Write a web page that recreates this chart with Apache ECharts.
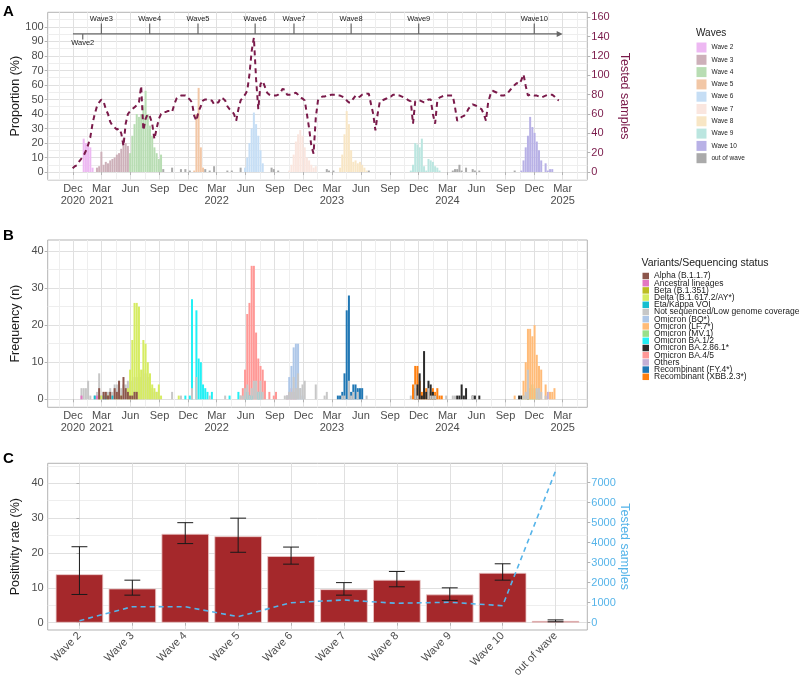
<!DOCTYPE html>
<html><head><meta charset="utf-8">
<script src="https://cdn.jsdelivr.net/npm/echarts@6/dist/echarts.min.js"></script>
<style>html,body{margin:0;padding:0;background:#fff}#c{width:800px;height:689px}</style>
</head><body><div id="c"></div>
<script>
// ================= DATA =================
// Weekly bins: week 0 is the week centred on this date
const weekBase = '2021-01-04';

// Time axis ticks (panels A and B)
const xTickDates = ['2020-12-01','2021-03-01','2021-06-01','2021-09-01','2021-12-01','2022-03-01','2022-06-01','2022-09-01','2022-12-01','2023-03-01','2023-06-01','2023-09-01','2023-12-01','2024-03-01','2024-06-01','2024-09-01','2024-12-01','2025-03-01'];
const xTickLabels = ['Dec\n2020','Mar\n2021','Jun','Sep','Dec','Mar\n2022','Jun','Sep','Dec','Mar\n2023','Jun','Sep','Dec','Mar\n2024','Jun','Sep','Dec','Mar\n2025'];

// ---- Panel A : weekly positivity proportion (%) by wave; segments = [first week, values...]
const waveNames = ['Wave 2','Wave 3','Wave 4','Wave 5','Wave 6','Wave 7','Wave 8','Wave 9','Wave 10','out of wave'];
const waveColors = ['#EDB8F2','#CDB0B9','#B8DDB3','#F2C7A6','#C6DEF5','#FAE6DF','#F8E6C5','#BBE6E0','#B8B1E6','#AAAAAA'];
const wave2Pct = [[0, [23, 20, 19, 17, 3]]];
const wave3Pct = [[6, [3, 4, 14, 5, 7, 6, 8, 9, 10, 12, 13, 16, 23, 20, 18]]];
const wave4Pct = [[21, [13, 25, 33, 40, 38, 40, 46, 56, 40, 32, 25, 17, 13, 9, 12]]];
const wave5Pct = [[50, [1, 40, 58, 17, 3]]];
const wave6Pct = [[73, [3, 10, 20, 30, 41, 33, 25, 15, 6]]];
const wave7Pct = [[93, [1, 5, 12, 21, 26, 29, 25, 17, 10, 8, 5, 3, 4]]];
const wave8Pct = [[116, [3, 12, 26, 42, 33, 15, 7, 8, 6, 7, 5, 3, 1]]];
const wave9Pct = [[148, [1, 5, 20, 19, 17, 23, 4, 1, 9, 8, 7, 4, 3, 1]]];
const wave10Pct = [[198, [1, 8, 17, 25, 38, 31, 27, 21, 15, 8, 0, 6, 1, 2, 2]]];
const outWavePct = [[36,[2]],[40,[3]],[44,[2]],[46,[2]],[48,[1]],[55,[2]],[57,[1]],[59,[4]],[65,[1]],[67,[1]],[71,[3]],[85,[3,2]],[88,[1]],[110,[2,1]],[113,[1]],[129,[1]],[167,[1,2,2,5,1,0,3,0,0,2,1,0,1]],[195,[1]]];

// Tested samples per week (right axis of A), starting at week -5
const testedFromWeek = -5;
const testedSamples = [4,6,7,11,14,
 17,22,28,36,50,60,68,72,75,73,
 65,60,52,48,46,44,45,40,27,50,
 60,63,65,67,69,72,89,43,55,60,
 57,50,34,45,55,60,62,62,63,63,
 62,70,76,78,79,79,79,77,75,72,
 58,53,63,68,74,75,75,74,74,70,
 72,72,77,76,74,68,65,63,60,53,
 65,74,77,80,84,101,125,139,96,65,
 91,94,88,82,80,79,79,79,80,82,
 86,85,80,80,80,81,82,80,77,76,
 74,60,45,27,19,56,74,77,78,78,
 79,79,80,80,80,79,79,78,77,74,
 72,72,76,79,77,78,80,80,81,81,
 70,60,43,60,73,74,75,76,78,78,
 80,80,79,79,78,77,76,74,73,50,
 73,74,74,73,72,73,75,75,60,50,
 74,77,78,79,79,79,79,79,67,53,
 55,57,58,60,65,68,70,69,68,66,
 65,60,53,72,80,84,83,82,80,79,
 79,80,82,85,87,90,92,91,95,101,
 89,79,80,80,79,79,78,77,78,79,
 80,80,80,78,75,74];

// Wave start markers on the timeline
const waveMarkDates = ['2021-01-01','2021-03-01','2021-08-01','2022-01-01','2022-07-01','2022-11-01','2023-05-01','2023-12-01','2024-12-01'];
const waveMarkLabels = ['Wave2','Wave3','Wave4','Wave5','Wave6','Wave7','Wave8','Wave9','Wave10'];
const timelineSpan = ['2020-12-01','2025-03-01'];

// ---- Panel B : weekly frequency by variant (legend order)
const variantNames = ['Alpha (B.1.1.7)','Ancestral lineages','Beta (B.1.351)','Delta (B.1.617.2/AY*)','Eta/Kappa VOI','Not sequenced/Low genome coverage','Omicron (BQ*)','Omicron (LF.7*)','Omicron (MV.1)','Omicron BA.1/2','Omicron BA.2.86.1*','Omicron BA.4/5','Others','Recombinant (FY.4*)','Recombinant (XBB.2.3*)'];
const variantColors = ['#8C564B','#E377C2','#BCBD22','#D6EC62','#17BECF','#C7C7C7','#AEC7E8','#FFBB78','#98DF8A','#22F0F5','#2B2B2B','#FF9896','#C5B0D5','#1F77B4','#FF7F0E'];
const alphaN = [[7,[3,0,2,2,1,2,0,3,2,5,1,6,3,2,1,1,2,2]]];
const ancestralN = [[-1,[1]],[6,[1]]];
const betaN = [[7,[1]],[11,[1]]];
const deltaN = [[8,[1]],[15,[1,0,1,0,0,3,8,16,26,26,25,8,16,15,10,7,4,3,2,4,1]],[43,[1]]];
const etaN = [[5,[1,0,0,0,1,1,0,0,1]]];
const notSeqN = [[-1,[3,3,3,5,1]],[5,[1,2,7,1,2,2,2,3,2,4,4,5,3,4,4,5,5,5,6,6,7,6,8,7,6,4,3,2,2,1]],[40,[2]],[44,[1]],[49,[3,0,6]],[57,[1]],[64,[1]],[71,[1,1,3,4,1,3,5,5,2,5,2]],[91,[1,1,2,2,6,3,7,3,4,5]],[105,[4]],[109,[1,2]],[117,[1,1,0,5,1,2,0,2]],[128,[1]],[148,[1]],[150,[4,1,0,0,0,0,3,1,1,1]],[164,[1]],[167,[1,1]],[176,[1]],[199,[1,2,8,0,0,0,3,3,2,0,1]]];
const bqN = [[92,[1,6,9,14,15,15,3,1]]];
const lf7N = [[195,[1]],[199,[5,10,19,19,17,20,12,9,8,0,4,0,2,2,3]]];
const mv1N = [[199,[1,1,2,3,4,3,2,1]]];
const ba12N = [[46,[1,0,1,27,0,24,11,10,4,3,2,0,2]],[66,[1]],[70,[2,0,0,2,2,1,1,0,0,2,2]]];
const ba286N = [[150,[3,4,7,1,13,2,5,4,2,1]],[169,[1,1,4,1,3,0,0,1,1,0,1]],[197,[1,1,0,0,1]]];
const ba45N = [[71,[1,3,8,23,26,36,36,18,11,9,8,5,0,2,0,1,2]],[92,[1,2,3,2,1]]];
const othersN = [[206,[1,0,0,0,2]]];
const fy4N = [[115,[1,1,2,7,24,28,2,4,4,3,3,3]]];
const xbbN = [[149,[4,9,9,5,2,3,3,2,2,3,2,3,1,1]]];

// ---- Panel C : positivity rate by wave
const waveCats = ['Wave 2','Wave 3','Wave 4','Wave 5','Wave 6','Wave 7','Wave 8','Wave 9','Wave 10','out of wave'];
const positivity = [13.9, 9.8, 25.5, 24.8, 19.1, 9.6, 12.3, 8.1, 14.3, 0.5];
const posLow  = [8.1, 7.9, 22.7, 20.2, 16.8, 7.9, 10.3, 6.4, 12.2, 0.25];
const posHigh = [21.8, 12.2, 28.7, 30.0, 21.7, 11.5, 14.7, 10.0, 16.9, 0.8];
const testedPerWave = [100, 800, 800, 300, 1000, 1135, 970, 1020, 850, 7585];

// ================= HELPERS =================
const DAY = 86400000;
const dX = s => Date.parse(s + 'T00:00:00Z') / DAY;
const base = dX(weekBase);
const wkX = k => base + 7 * k;
const K0 = -5, K1 = 215;
function weekly(segs) {
  const m = new Map();
  segs.forEach(([s, vals]) => vals.forEach((v, i) => { if (v) m.set(s + i, v); }));
  const out = [];
  for (let k = K0; k <= K1; k++) out.push([wkX(k), m.has(k) ? m.get(k) : null]);
  return out;
}
const FONT = '"Liberation Sans", Arial, Helvetica, sans-serif';
const TXT = '#4D4D4D', BORDER = '#B3B3B3', GRIDC = '#E0E0E0', MINORC = '#EEEEEE';
const MAROON = '#7A1A4A', SKY = '#56B4E9';

const xMin = dX('2020-12-01') - 80, xMax = dX('2025-03-01') + 78;
const xMajor = xTickDates.map(dX);
const xMinor = (() => {
  const n = xMajor.length;
  const e = [2 * xMajor[0] - xMajor[1], ...xMajor, 2 * xMajor[n - 1] - xMajor[n - 2]];
  const r = [];
  for (let i = 0; i < e.length - 1; i++) { const m = (e[i] + e[i + 1]) / 2; if (m > xMin && m < xMax) r.push(m); }
  return r;
})();
const xFmt = v => { const i = xMajor.findIndex(m => Math.abs(m - v) < 0.01); return i < 0 ? '' : xTickLabels[i]; };
const numFmt = v => String(Math.round(v));
const range = (a, b, s) => { const r = []; for (let v = a; v <= b + 1e-9; v += s) r.push(v); return r; };

function timeAxis(g) {
  return {type: 'value', gridIndex: g, min: xMin, max: xMax,
    axisLine: {show: false},
    axisTick: {show: true, customValues: xMajor, length: 3, lineStyle: {color: BORDER}},
    axisLabel: {customValues: xMajor, formatter: xFmt, fontSize: 11, lineHeight: 12, color: TXT, margin: 3, fontFamily: FONT},
    splitLine: {show: true, lineStyle: {color: GRIDC, width: 1}}};
}
function minorX(g) {
  return {type: 'value', gridIndex: g, min: xMin, max: xMax, axisLine: {show: false},
    axisTick: {show: false, customValues: xMinor}, axisLabel: {show: false, customValues: xMinor},
    splitLine: {show: true, lineStyle: {color: MINORC, width: 1}}};
}
function yLeft(g, min, max, ticks, name) {
  return {type: 'value', gridIndex: g, min, max, position: 'left',
    axisLine: {show: false},
    axisTick: {show: true, customValues: ticks, length: 3, lineStyle: {color: BORDER}},
    axisLabel: {customValues: ticks, formatter: numFmt, fontSize: 11, color: TXT, margin: 4, fontFamily: FONT},
    splitLine: {show: true, lineStyle: {color: GRIDC, width: 1}},
    name, nameLocation: 'middle', nameGap: 26, nameRotate: 90, nameMoveOverlap: false,
    nameTextStyle: {fontSize: 12.5, color: '#1A1A1A', fontFamily: FONT}};
}
function yMinor(g, min, max, ticks) {
  return {type: 'value', gridIndex: g, min, max, position: 'left', axisLine: {show: false},
    axisTick: {show: false, customValues: ticks}, axisLabel: {show: false, customValues: ticks},
    splitLine: {show: true, lineStyle: {color: MINORC, width: 1}}};
}
function yRight(g, min, max, ticks, color) {
  return {type: 'value', gridIndex: g, min, max, position: 'right',
    axisLine: {show: false},
    axisTick: {show: true, customValues: ticks, length: 3, lineStyle: {color: BORDER}},
    axisLabel: {customValues: ticks, formatter: numFmt, fontSize: 11, color, margin: 4, fontFamily: FONT},
    splitLine: {show: false},
    name: 'Tested samples', nameLocation: 'middle', nameGap: 31, nameRotate: -90, nameMoveOverlap: false,
    nameTextStyle: {fontSize: 12.5, color, fontFamily: FONT}};
}

// ranges
const aMin = -5.5, aMax = 110.1, aK = 1.5;
const bMin = -2.16, bMax = 42.97;
const cMin = -2.1, cMax = 45.74, cK = 174.2;

// ================= SERIES =================
const series = [];
[wave2Pct, wave3Pct, wave4Pct, wave5Pct, wave6Pct, wave7Pct, wave8Pct, wave9Pct, wave10Pct, outWavePct].forEach((segs, i) => {
  series.push({name: waveNames[i], type: 'bar', xAxisIndex: 0, yAxisIndex: 0, stack: 'waves', barWidth: 2,
    data: weekly(segs), itemStyle: {color: waveColors[i]}, emphasis: {disabled: true}});
});
series.push({name: 'Tested samples A', type: 'line', xAxisIndex: 0, yAxisIndex: 1,
  data: testedSamples.map((v, i) => [wkX(testedFromWeek + i), v]),
  symbol: 'none', showSymbol: false, z: 5,
  lineStyle: {color: MAROON, width: 2, type: [5, 4]}, emphasis: {disabled: true}});
// timeline arrow
series.push({type: 'custom', xAxisIndex: 0, yAxisIndex: 0, z: 6, silent: true,
  data: [[dX(timelineSpan[0]), dX(timelineSpan[1])]],
  renderItem: (p, api) => {
    const a = api.coord([api.value(0), 95.2]), b = api.coord([api.value(1), 95.2]);
    return {type: 'group', children: [
      {type: 'line', shape: {x1: a[0], y1: a[1], x2: b[0] - 4, y2: b[1]}, style: {stroke: '#666', lineWidth: 1.2}},
      {type: 'polygon', shape: {points: [[b[0], b[1]], [b[0] - 6, b[1] - 3], [b[0] - 6, b[1] + 3]]}, style: {fill: '#666'}}
    ]};
  }});
// wave markers
series.push({type: 'custom', xAxisIndex: 0, yAxisIndex: 0, z: 6, silent: true,
  data: waveMarkDates.map((d, i) => [dX(d), i === 0 ? -1 : 1]),
  renderItem: (p, api) => {
    const below = api.value(1) < 0;
    const x = api.value(0);
    const p0 = api.coord([x, 95.2]);
    const p1 = api.coord([x, below ? 91.4 : 102.4]);
    return {type: 'group', children: [
      {type: 'line', shape: {x1: p0[0], y1: p0[1], x2: p1[0], y2: p1[1]}, style: {stroke: '#666', lineWidth: 1.2}},
      {type: 'text', x: p1[0], y: p1[1] + (below ? 0 : -0.5), style: {text: waveMarkLabels[p.dataIndex],
        align: 'center', verticalAlign: below ? 'top' : 'bottom',
        textAlign: 'center', textVerticalAlign: below ? 'top' : 'bottom',
        font: '7.5px ' + FONT, fill: '#1A1A1A'}}
    ]};
  }});

// Panel B stacked bars (bottom = last legend item)
const variantSegs = [alphaN, ancestralN, betaN, deltaN, etaN, notSeqN, bqN, lf7N, mv1N, ba12N, ba286N, ba45N, othersN, fy4N, xbbN];
for (let i = variantNames.length - 1; i >= 0; i--) {
  series.push({name: variantNames[i], type: 'bar', xAxisIndex: 2, yAxisIndex: 3, stack: 'variants', barWidth: 2,
    data: weekly(variantSegs[i]), itemStyle: {color: variantColors[i]}, emphasis: {disabled: true}});
}

// Panel C
series.push({name: 'Positivity', type: 'bar', xAxisIndex: 4, yAxisIndex: 5, barWidth: 47.5,
  data: positivity.map((v, i) => [i, v]),
  itemStyle: {color: '#A5282B', borderColor: '#EBC9C9', borderWidth: 0.8}, emphasis: {disabled: true}});
series.push({type: 'custom', xAxisIndex: 4, yAxisIndex: 5, z: 4, silent: true,
  data: posLow.map((lo, i) => [i, lo, posHigh[i]]),
  renderItem: (p, api) => {
    const i = api.value(0);
    const a = api.coord([i, api.value(1)]), b = api.coord([i, api.value(2)]);
    const hw = api.size([0.3, 0])[0] / 2;
    const st = {stroke: '#1A1A1A', lineWidth: 1};
    return {type: 'group', children: [
      {type: 'line', shape: {x1: a[0], y1: a[1], x2: b[0], y2: b[1]}, style: st},
      {type: 'line', shape: {x1: a[0] - hw, y1: a[1], x2: a[0] + hw, y2: a[1]}, style: st},
      {type: 'line', shape: {x1: b[0] - hw, y1: b[1], x2: b[0] + hw, y2: b[1]}, style: st}
    ]};
  }});
series.push({name: 'Tested samples C', type: 'line', xAxisIndex: 4, yAxisIndex: 6, z: 5,
  data: testedPerWave.map((v, i) => [i, v]), symbol: 'none', showSymbol: false,
  lineStyle: {color: SKY, width: 1.6, type: [5, 4]}, emphasis: {disabled: true}});

// ================= OPTION =================
const gridBase = {show: true, borderColor: BORDER, borderWidth: 1, backgroundColor: 'transparent', containLabel: false, outerBoundsMode: 'none'};
const option = {
  animation: false,
  backgroundColor: '#fff',
  textStyle: {fontFamily: FONT},
  title: [
    {text: 'A', left: 3, top: 4, padding: 0, textStyle: {fontSize: 15, fontWeight: 'bold', color: '#000', fontFamily: FONT}},
    {text: 'B', left: 3, top: 228.5, padding: 0, textStyle: {fontSize: 15, fontWeight: 'bold', color: '#000', fontFamily: FONT}},
    {text: 'C', left: 3, top: 451, padding: 0, textStyle: {fontSize: 15, fontWeight: 'bold', color: '#000', fontFamily: FONT}},
    {text: 'Waves', left: 696, top: 28, padding: 0, textStyle: {fontSize: 10, fontWeight: 'normal', color: '#1A1A1A', fontFamily: FONT}},
    {text: 'Variants/Sequencing status', left: 641.5, top: 258, padding: 0, textStyle: {fontSize: 10.5, fontWeight: 'normal', color: '#1A1A1A', fontFamily: FONT}}
  ],
  legend: [
    {orient: 'vertical', left: 696.5, top: 42.5, padding: 0, itemWidth: 10, itemHeight: 10, itemGap: 2.3, icon: 'rect',
     selectedMode: false, data: waveNames, textStyle: {fontSize: 6.5, color: '#1A1A1A', fontFamily: FONT}},
    {orient: 'vertical', left: 642.5, top: 271.5, padding: 0, itemWidth: 6.5, itemHeight: 6.5, itemGap: -1.8, icon: 'rect',
     selectedMode: false, data: variantNames, textStyle: {fontSize: 8.5, lineHeight: 7, color: '#1A1A1A', fontFamily: FONT}}
  ],
  grid: [
    Object.assign({left: 47.7, top: 12.3, width: 539.6, height: 167.7}, gridBase),
    Object.assign({left: 47.7, top: 240, width: 539.6, height: 167.3}, gridBase),
    Object.assign({left: 47.7, top: 463.3, width: 539.6, height: 166.7}, gridBase)
  ],
  xAxis: [
    timeAxis(0), minorX(0), timeAxis(1), minorX(1),
    {type: 'value', gridIndex: 2, min: -0.6, max: 9.6, axisLine: {show: false},
     axisTick: {show: true, customValues: range(0, 9, 1), length: 3, lineStyle: {color: BORDER}},
     axisLabel: {customValues: range(0, 9, 1), formatter: v => waveCats[Math.round(v)] || '', rotate: 45, fontSize: 11, color: TXT, margin: 4, fontFamily: FONT},
     splitLine: {show: true, lineStyle: {color: GRIDC, width: 1}}}
  ],
  yAxis: [
    yLeft(0, aMin, aMax, range(0, 100, 10), 'Proportion (%)'),
    yRight(0, aMin * aK, aMax * aK, range(0, 160, 20), MAROON),
    yMinor(0, aMin, aMax, range(-5, 105, 10)),
    yLeft(1, bMin, bMax, range(0, 40, 10), 'Frequency (n)'),
    yMinor(1, bMin, bMax, range(5, 35, 10)),
    yLeft(2, cMin, cMax, range(0, 40, 10), 'Positivity rate (%)'),
    yRight(2, cMin * cK, cMax * cK, range(0, 7000, 1000), SKY),
    yMinor(2, cMin, cMax, range(5, 45, 10))
  ],
  series
};
const chart = echarts.init(document.getElementById('c'), null, {renderer: 'canvas'});
chart.setOption(option);
</script>
</body></html>
